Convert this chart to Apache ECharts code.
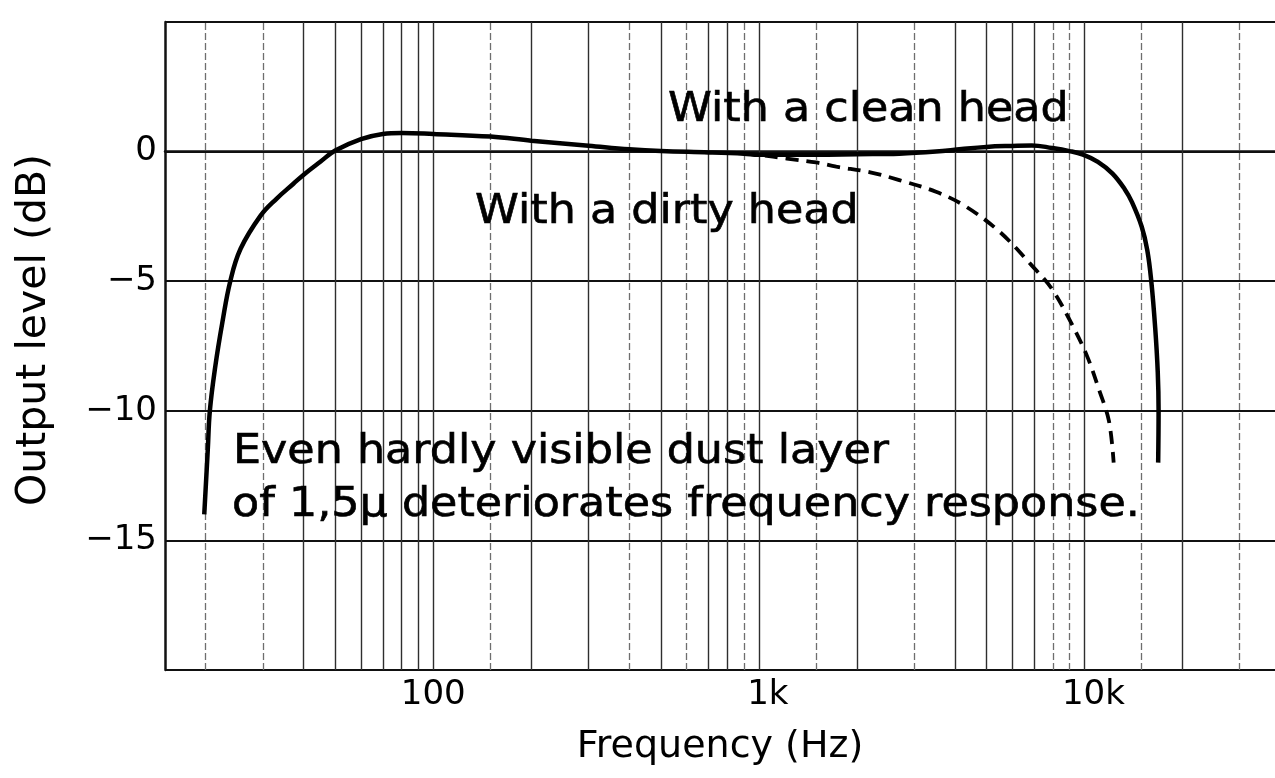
<!DOCTYPE html>
<html>
<head>
<meta charset="utf-8">
<script src="https://cdn.jsdelivr.net/npm/echarts@6/dist/echarts.min.js"></script>
<style>
html,body{margin:0;padding:0;background:#fff;}
#chart{width:1275px;height:778px;}
</style>
</head>
<body>
<div id="chart"></div>
<script>
// ---- data ----
var cleanHead = [
  [19.8,-14],[20.3,-11.5],[20.6,-10],[21.4,-8.3],[22.5,-6.6],[23.8,-5],[25.6,-3.75],
  [29.5,-2.47],[33,-1.82],[37.2,-1.24],[40,-0.89],[45,-0.39],[50,0.04],[60,0.48],
  [70,0.68],[80,0.72],[100,0.68],[150,0.58],[200,0.42],[300,0.23],[400,0.09],
  [500,0.02],[700,-0.03],[900,-0.08],[1000,-0.12],[1500,-0.12],[2000,-0.1],
  [2700,-0.08],[3500,0],[4200,0.1],[5000,0.18],[6000,0.22],[6900,0.24],[7950,0.14],
  [9000,0.02],[9900,-0.12],[11000,-0.4],[12200,-0.85],[13300,-1.45],[14000,-1.95],
  [15000,-2.9],[15600,-3.8],[16050,-5],[16500,-6.8],[16800,-8.5],[16900,-10],[16850,-12]
];
var dirtyHead = [
  [900,-0.08],[1000,-0.13],[1220,-0.27],[1500,-0.42],[1730,-0.58],[2200,-0.8],
  [2700,-1.1],[3500,-1.55],[4300,-2.1],[5500,-3.1],[6900,-4.4],[7950,-5.3],
  [9100,-6.6],[10200,-7.9],[11100,-9.2],[11900,-10.4],[12300,-12]
];
var xTickValues = [100, 1000, 10000];
var xTickLabels = ['100', '1k', '10k'];
var yTickValues = [0, -5, -10, -15];
var gridFreqs = [20,30,40,50,60,70,80,90,100,150,200,300,400,500,600,700,800,900,
  1000,1500,2000,3000,4000,5000,6000,7000,8000,9000,10000,15000,20000,30000];
var lightFreqs = [20,30,150,400,600,900,1500,3000,8000,9000,15000,30000];
var annotationTexts = ['With a clean head', 'With a dirty head',
  'Even hardly visible dust layer', 'of 1,5\u03bc deteriorates frequency response.'];
var annotationPos = [[668,111],[475,213],[233,453],[232,506]];

// ---- chart ----
var FONT = '"DejaVu Sans", "Liberation Sans", sans-serif';
var chart = echarts.init(document.getElementById('chart'), null, {renderer:'canvas'});

function xLabel(v){
  for (var i=0;i<xTickValues.length;i++){
    if (Math.abs(v - xTickValues[i]) < xTickValues[i]*1e-6){
      var s = xTickLabels[i];
      return /k$/.test(s) ? '{p| }' + s : s;
    }
  }
  return '';
}
function yLabel(v){
  if (yTickValues.indexOf(v) < 0) return '';
  return v < 0 ? '\u2212' + Math.abs(v) : String(v);
}

var vLines = gridFreqs.map(function(f){
  var light = lightFreqs.indexOf(f) >= 0;
  return {
    xAxis: f,
    lineStyle: light ? {color:'#6e6e6e', width:1.3, type:[7,3]} : {color:'#2e2e2e', width:1.4, type:'solid'}
  };
});

var option = {
  backgroundColor: '#ffffff',
  animation: false,
  grid: { left: 165, right: 0, top: 22, bottom: 108, outerBoundsMode: 'none', containLabel: false },
  xAxis: {
    type: 'log', logBase: 10, min: 15, max: 38500,
    name: 'Frequency (Hz)', nameLocation: 'middle', nameGap: 58,
    nameTextStyle: { fontFamily: FONT, fontSize: 38, color: '#000' },
    axisLine: { show: true, lineStyle: { color: '#111', width: 2.5 } },
    axisTick: { show: false },
    splitLine: { show: false },
    minorSplitLine: { show: false },
    axisLabel: {
      formatter: xLabel, margin: 8, color: '#000', fontFamily: FONT, fontSize: 34,
      showMinLabel: true, showMaxLabel: true,
      rich: { p: { width: 18, fontFamily: FONT, fontSize: 34 } }
    }
  },
  yAxis: {
    type: 'value', min: -20, max: 5, interval: 5,
    name: 'Output level (dB)', nameLocation: 'middle', nameGap: 110, nameRotate: 90,
    nameTextStyle: { fontFamily: FONT, fontSize: 41, color: '#000', padding: [0, 0, 0, 32] },
    axisLine: { show: true, lineStyle: { color: '#111', width: 2.5 } },
    axisTick: { show: false },
    splitLine: { show: true, lineStyle: { color: '#111', width: 2.2 } },
    axisLabel: { formatter: yLabel, margin: 8, color: '#000', fontFamily: FONT, fontSize: 34 }
  },
  series: [
    {
      name: 'grid', type: 'line', data: [], z: 1, silent: true,
      markLine: { silent: true, symbol: 'none', label: { show: false }, animation: false, data: vLines }
    },
    {
      name: 'With a clean head', type: 'line', data: cleanHead, smooth: 0.4,
      showSymbol: false, z: 5, lineStyle: { color: '#000', width: 4.5 }
    },
    {
      name: 'With a dirty head', type: 'line', data: dirtyHead, smooth: 0.35,
      showSymbol: false, z: 6, lineStyle: { color: '#000', width: 3.8, type: [13, 8] }
    }
  ],
  graphic: annotationTexts.map(function(t, i){
    return {
      type: 'text', x: annotationPos[i][0], y: annotationPos[i][1], scaleX: 1.11, z: 10,
      style: { text: t, font: '40px ' + FONT, fill: '#000', align: 'left', verticalAlign: 'middle',
               stroke: '#000', lineWidth: 0.6 }
    };
  })
};
chart.setOption(option);
</script>
</body>
</html>
